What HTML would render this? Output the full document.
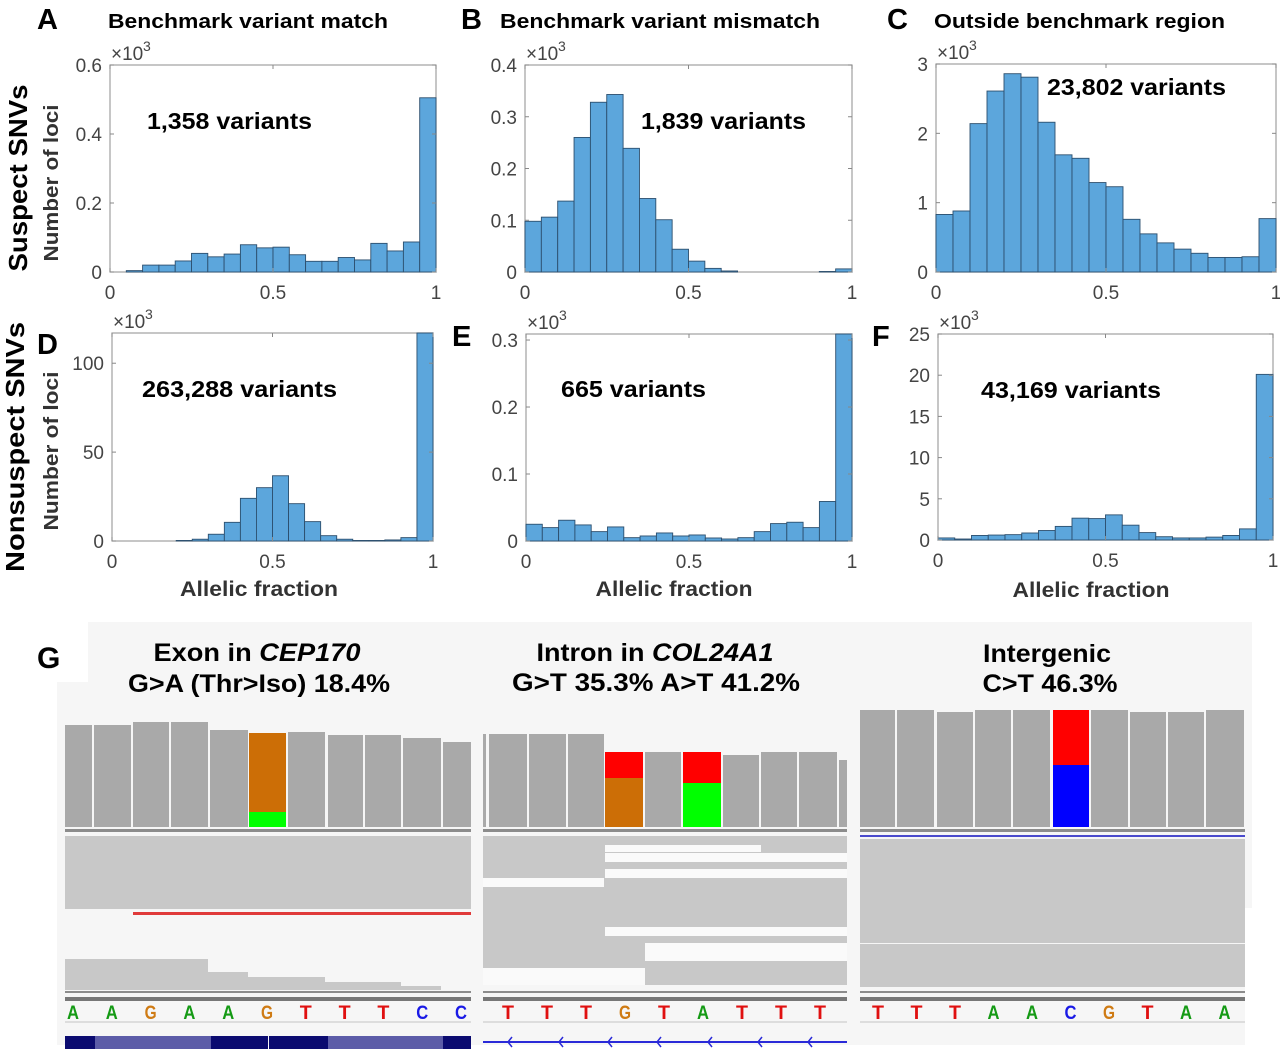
<!DOCTYPE html>
<html><head><meta charset="utf-8"><style>
html,body{margin:0;padding:0;background:#fff;}
svg{display:block;}
text{font-family:"Liberation Sans",sans-serif;}
</style></head><body>
<svg id="fig" width="1280" height="1051" viewBox="0 0 1280 1051" xmlns="http://www.w3.org/2000/svg">
<g id="hist"></g>
<text transform="translate(27,178) rotate(-90)" text-anchor="middle" font-size="26" font-weight="bold" textLength="187" lengthAdjust="spacingAndGlyphs">Suspect SNVs</text>
<text transform="translate(58,183) rotate(-90)" text-anchor="middle" font-size="20" font-weight="bold" fill="#333" textLength="157" lengthAdjust="spacingAndGlyphs">Number of loci</text>
<text transform="translate(24,447) rotate(-90)" text-anchor="middle" font-size="26" font-weight="bold" textLength="250" lengthAdjust="spacingAndGlyphs">Nonsuspect SNVs</text>
<text transform="translate(58,451) rotate(-90)" text-anchor="middle" font-size="20" font-weight="bold" fill="#333" textLength="159" lengthAdjust="spacingAndGlyphs">Number of loci</text>

<g>
<path d="M88 622 H1252 V908 H1245 V1045 H57 V682 H88 Z" fill="#f6f6f6"/>
<text x="37" y="668" font-size="30" font-weight="bold">G</text>
<text x="257" y="661" text-anchor="middle" font-size="25" font-weight="bold" textLength="207" lengthAdjust="spacingAndGlyphs">Exon in <tspan font-style="italic">CEP170</tspan></text>
<text x="259" y="692" text-anchor="middle" font-size="25" font-weight="bold" textLength="262" lengthAdjust="spacingAndGlyphs">G&gt;A (Thr&gt;Iso) 18.4%</text>
<text x="655" y="661" text-anchor="middle" font-size="25" font-weight="bold" textLength="237" lengthAdjust="spacingAndGlyphs">Intron in <tspan font-style="italic">COL24A1</tspan></text>
<text x="656" y="691" text-anchor="middle" font-size="25" font-weight="bold" textLength="288" lengthAdjust="spacingAndGlyphs">G&gt;T 35.3%  A&gt;T 41.2%</text>
<text x="1047" y="662" text-anchor="middle" font-size="25" font-weight="bold" textLength="128" lengthAdjust="spacingAndGlyphs">Intergenic</text>
<text x="1050" y="692" text-anchor="middle" font-size="25" font-weight="bold" textLength="135" lengthAdjust="spacingAndGlyphs">C&gt;T 46.3%</text>
<g id="igv"></g>
</g>
</svg>
<script>
const binEdges = [0,0.05,0.1,0.15,0.2,0.25,0.3,0.35,0.4,0.45,0.5,0.55,0.6,0.65,0.7,0.75,0.8,0.85,0.9,0.95,1];
const xTickLabels = ["0","0.5","1"];
const xTickValues = [0,0.5,1];
const countsA = [0,0.004,0.02,0.02,0.032,0.054,0.044,0.052,0.079,0.070,0.072,0.050,0.031,0.031,0.042,0.035,0.083,0.061,0.087,0.505];
const countsB = [0.098,0.106,0.137,0.26,0.328,0.343,0.239,0.142,0.101,0.044,0.021,0.007,0.002,0,0,0,0,0,0.001,0.006];
const countsC = [0.83,0.88,2.14,2.61,2.86,2.81,2.16,1.69,1.64,1.29,1.23,0.76,0.55,0.42,0.33,0.27,0.21,0.21,0.22,0.77];
const countsD = [0,0,0,0,0.3,1,3.8,10.5,24,30,36.7,21,10.9,3,1,0.3,0.3,0.6,1.9,117];
const countsE = [0.025,0.020,0.031,0.024,0.014,0.021,0.005,0.0075,0.012,0.0075,0.009,0.0045,0.003,0.005,0.014,0.026,0.028,0.020,0.059,0.309];
const countsF = [0.25,0.12,0.55,0.6,0.65,0.85,1.15,1.65,2.65,2.6,3.05,1.8,0.9,0.4,0.25,0.25,0.35,0.55,1.35,20.1];
const yTicksA = [0,0.2,0.4,0.6], yLabelsA = ["0","0.2","0.4","0.6"];
const yTicksB = [0,0.1,0.2,0.3,0.4], yLabelsB = ["0","0.1","0.2","0.3","0.4"];
const yTicksC = [0,1,2,3], yLabelsC = ["0","1","2","3"];
const yTicksD = [0,50,100], yLabelsD = ["0","50","100"];
const yTicksE = [0,0.1,0.2,0.3], yLabelsE = ["0","0.1","0.2","0.3"];
const yTicksF = [0,5,10,15,20,25], yLabelsF = ["0","5","10","15","20","25"];
const panelLetters = ["A","B","C","D","E","F"];
const panelTitles = ["Benchmark variant match","Benchmark variant mismatch","Outside benchmark region","","",""];
const variantLabels = ["1,358 variants","1,839 variants","23,802 variants","263,288 variants","665 variants","43,169 variants"];

const NS = "http://www.w3.org/2000/svg";
function mk(tag, attrs, parent){ const e=document.createElementNS(NS,tag); for(const k in attrs) e.setAttribute(k,attrs[k]); parent.appendChild(e); return e; }

const layout = [
 {x0:110,x1:436,y0:272,y1:65,ymax:0.6,counts:countsA,yt:yTicksA,yl:yLabelsA,letter:[37,29],title:[108,28,280],vl:[147,129,165],xlab:false,id:"a"},
 {x0:525,x1:852,y0:272,y1:65,ymax:0.4,counts:countsB,yt:yTicksB,yl:yLabelsB,letter:[461,29],title:[500,28,320],vl:[641,129,165],xlab:false,id:"b"},
 {x0:936,x1:1276,y0:272,y1:64,ymax:3,counts:countsC,yt:yTicksC,yl:yLabelsC,letter:[887,29],title:[934,28,291],vl:[1047,95,179],xlab:false,id:"c"},
 {x0:112,x1:433,y0:541,y1:333,ymax:117,counts:countsD,yt:yTicksD,yl:yLabelsD,letter:[37,354],title:null,vl:[142,397,195],xlab:[259,596,158],id:"d"},
 {x0:526,x1:852,y0:541,y1:334,ymax:0.309,counts:countsE,yt:yTicksE,yl:yLabelsE,letter:[452,346],title:null,vl:[561,397,145],xlab:[674,596,157],id:"e"},
 {x0:938,x1:1273,y0:540,y1:334,ymax:25,counts:countsF,yt:yTicksF,yl:yLabelsF,letter:[872,346],title:null,vl:[981,398,180],xlab:[1091,597,157],id:"f"}
];
const H = document.getElementById("hist");
layout.forEach((p,i)=>{
  const g = mk("g",{},H);
  
  
  const xs = v => p.x0 + v*(p.x1-p.x0);
  const ys = v => p.y0 - v/p.ymax*(p.y0-p.y1);
  const box = mk("rect",{x:p.x0,y:Math.min(p.y1,ys(p.ymax)),width:p.x1-p.x0,height:p.y0-Math.min(p.y1,ys(p.ymax)),fill:"#fff",stroke:"#a0a0a0","stroke-width":1.2},g);
  
  
  p.counts.forEach((c,k)=>{
    if(c<=0) return;
    const bx = xs(binEdges[k]), bw = xs(binEdges[k+1])-bx, by = Math.max(ys(c), p.y1);
    const r = mk("rect",{x:bx,y:by,width:bw,height:p.y0-by,fill:"#5ca6dc",stroke:"#2c4f6e","stroke-width":0.9},g);
    
    
  });
  p.yt.forEach((v,k)=>{
    const y = ys(v);
    mk("line",{x1:p.x0,x2:p.x0+4,y1:y,y2:y,stroke:"#888"},g);
    mk("line",{x1:p.x1,x2:p.x1-4,y1:y,y2:y,stroke:"#888"},g);
    const t = mk("text",{x:p.x0-8,y:y+7,"text-anchor":"end","font-size":19,fill:"#444"},g);
    t.textContent = p.yl[k];
    
    
  });
  xTickValues.forEach((v,k)=>{
    const x = xs(v);
    mk("line",{x1:x,x2:x,y1:p.y0,y2:p.y0-4,stroke:"#888"},g);
    mk("line",{x1:x,x2:x,y1:p.y1,y2:p.y1+4,stroke:"#888"},g);
    const t = mk("text",{x:x,y:p.y0+27,"text-anchor":"middle","font-size":19,fill:"#444"},g);
    t.textContent = xTickLabels[k];
    
    
  });
  const ex = mk("text",{x:p.x0+1,y:p.y1-5,"font-size":19,fill:"#444"},g);
  ex.textContent = "\u00d710";
  
  
  const sup = mk("text",{x:p.x0+33,y:p.y1-14,"font-size":14,fill:"#444"},g);
  sup.textContent = "3";
  
  
  const L = mk("text",{x:p.letter[0],y:p.letter[1],"font-size":29,"font-weight":"bold"},g);
  L.textContent = panelLetters[i];
  
  
  if(p.title){
    const T = mk("text",{x:p.title[0],y:p.title[1],"font-size":20,"font-weight":"bold",textLength:p.title[2],lengthAdjust:"spacingAndGlyphs"},g);
    T.textContent = panelTitles[i];
    
    
  }
  const V = mk("text",{x:p.vl[0],y:p.vl[1],"font-size":23,"font-weight":"bold",textLength:p.vl[2],lengthAdjust:"spacingAndGlyphs"},g);
  V.textContent = variantLabels[i];
  
  
  if(p.xlab){
    const X = mk("text",{x:p.xlab[0],y:p.xlab[1],"text-anchor":"middle","font-size":21,"font-weight":"bold",fill:"#333",textLength:p.xlab[2],lengthAdjust:"spacingAndGlyphs"},g);
    X.textContent = "Allelic fraction";
    
    
  }
});

const G = document.getElementById("igv");
function R(x,y,w,h,fill,name){ const r=mk("rect",{x:x,y:y,width:w,height:h,fill:fill},G);   return r; }
const GRAY="#a9a9a9", READ="#c8c8c8";
const cov1 = [[65,92,725],[94,131,725],[133,169,722],[171,208,722],[210,248,730],[249,286,733],[288,325,732],[328,363,735],[365,401,735],[403,441,738],[443,471,742]];
const cov2 = [[483,486,734],[489,527,734],[529,566,734],[568,604,734],[605,643,752],[645,681,752],[683,721,752],[723,759,755],[761,797,752],[799,837,752],[839,847,760]];
const cov3 = [[860,895,710],[897,934,710],[937,973,712],[975,1011,710],[1013,1050,710],[1053,1089,710],[1091,1128,710],[1130,1166,712],[1168,1204,712],[1206,1244,710]];
[cov1,cov2,cov3].forEach((cv,b)=>cv.forEach(c=>R(c[0],c[2],c[1]-c[0],827-c[2],GRAY,'coverage-bar')));
R(249,733,37,79,"#cc6e06",'allele-g'); R(249,812,37,15,"#00ff00",'allele-a');
R(605,752,38,26,"#ff0000",'allele-t'); R(605,778,38,49,"#cc6e06",'allele-g');
R(683,752,38,31,"#ff0000",'allele-t'); R(683,783,38,44,"#00ff00",'allele-a');
R(1053,710,36,55,"#ff0000",'allele-t'); R(1053,765,36,62,"#0000ff",'allele-c');
[[65,471],[483,847],[860,1245]].forEach(s=>{
  R(s[0],829,s[1]-s[0],3,"#8c8c8c",'coverage-separator');
  R(s[0],991,s[1]-s[0],2,"#8c8c8c",'reads-bottom-line');
  R(s[0],997,s[1]-s[0],4,"#777",'sequence-top-line');
  R(s[0],1021,s[1]-s[0],2,"#ddd",'sequence-bottom-line');
});
R(65,836,406,73,READ,'read-block');
R(133,912,338,3,"#e03a3a",'deletion-line');
R(65,959,143,31,READ,'read-block'); R(208,972,40,18,READ,'read-block'); R(248,977,77,13,READ,'read-block');
R(325,982,76,8,READ,'read-block'); R(401,986,40,4,READ,'read-block');
R(483,836,364,149,READ,'read-block');
R(605,845,156,7,"#fafafa",'read-gap'); R(605,853,242,9,"#fafafa",'read-gap');
R(483,878,121,9,"#fafafa",'read-gap'); R(605,869,242,9,"#fafafa",'read-gap');
R(605,927,242,9,"#fafafa",'read-gap'); R(645,943,202,18,"#fafafa",'read-gap');
R(483,968,162,17,"#fafafa",'read-gap');
R(860,835,385,2,"#4a4acc",'insertion-line');
R(860,839,385,104,READ,'read-block'); R(860,944,385,43,READ,'read-block');
const seq1 = ["A","A","G","A","A","G","T","T","T","C","C"];
const seq2 = ["T","T","T","G","T","A","T","T","T"];
const seq3 = ["T","T","T","A","A","C","G","T","A","A"];
const baseColor = {A:"#159a15",G:"#cf7b14",T:"#e01010",C:"#1a1ae6"};
function drawSeq(seq,x0,step){
  seq.forEach((b,k)=>{
    const t = mk("text",{x:x0+k*step,y:1019,"text-anchor":"middle","font-size":19,"font-weight":"bold",fill:baseColor[b],textLength:12,lengthAdjust:"spacingAndGlyphs"},G);
    t.textContent = b;
    
    
  });
}
drawSeq(seq1,73,38.8); drawSeq(seq2,508,39); drawSeq(seq3,878,38.5);
[[65,95,"#0b0b70"],[95,211,"#5c5ca8"],[211,268,"#0b0b70"],[269,328,"#0b0b70"],[328,443,"#5c5ca8"],[443,471,"#0b0b70"]].forEach(s=>R(s[0],1036,s[1]-s[0],13,s[2],'gene-exon'));
R(483,1041,364,2,"#2a2ad8",'gene-intron-line');
[508,559,608,657,708,758,808].forEach(x=>{
  const p = mk("path",{d:`M${x+4} 1037 L${x} 1042 L${x+4} 1047`,stroke:"#2a2ad8",fill:"none","stroke-width":1.5},G);
  
  
});
</script>
</body></html>
